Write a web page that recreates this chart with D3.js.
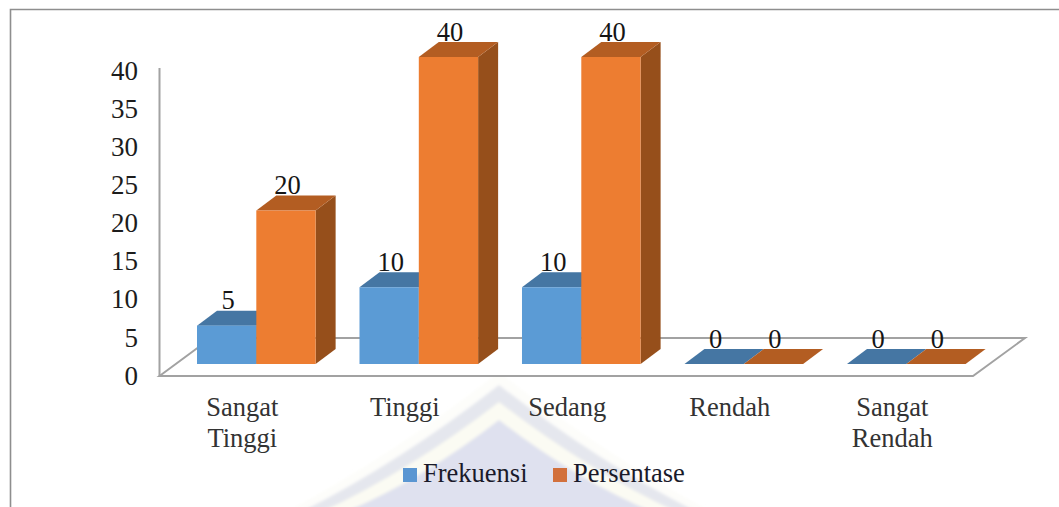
<!DOCTYPE html>
<html>
<head>
<meta charset="utf-8">
<script src="https://cdn.jsdelivr.net/npm/d3@7/dist/d3.min.js"></script>
<style>
  html, body { margin: 0; padding: 0; background: #fff; }
  svg { display: block; }
  text { font-family: "Liberation Serif", "Times New Roman", serif; }
</style>
</head>
<body>
<svg id="chart" width="1059" height="507"></svg>
<script>
const categories = [["Sangat", "Tinggi"], ["Tinggi"], ["Sedang"], ["Rendah"], ["Sangat", "Rendah"]];
const seriesNames = ["Frekuensi", "Persentase"];
const frekuensi = [5, 10, 10, 0, 0];
const persentase = [20, 40, 40, 0, 0];
const axisTicks = [0, 5, 10, 15, 20, 25, 30, 35, 40];

const W = 1059, H = 507;
const svg = d3.select("#chart").attr("viewBox", `0 0 ${W} ${H}`);

// Bar faces: front, lid and right side for each series
const palette = {
  Frekuensi:  { front: "#5b9bd5", top: "#4576a3", side: "#3c6690", key: "#5a96d2" },
  Persentase: { front: "#ed7d31", top: "#b35d22", side: "#964f1b", key: "#d2703c" }
};
const depthX = 20, depthY = 15;

const y = d3.scaleLinear().domain([0, 40]).range([364, 57]);
const labelY = d3.scaleLinear().domain([0, 40]).range([375.5, 70.5]);
const x0 = d3.scaleBand().domain(d3.range(categories.length)).range([197, 965.6]).paddingInner(0.27);
const x1 = d3.scaleBand().domain(seriesNames).range([0, x0.bandwidth()]);

// Faded roof emblem sitting behind the legend, with softly sagging eaves
const defs = svg.append("defs");
defs.append("filter").attr("id", "soft")
  .attr("x", "-10%").attr("y", "-10%").attr("width", "120%").attr("height", "120%")
  .append("feGaussianBlur").attr("stdDeviation", 1.6);
defs.append("clipPath").attr("id", "page").append("rect")
  .attr("width", W).attr("height", H);

const roof = (peak, spread) => {
  const cx = 499, sag = 14, midY = (peak + H + 6) / 2 + sag;
  const l = cx - spread, r = cx + spread;
  return `M${cx},${peak}Q${cx + spread / 2},${midY} ${r},${H + 6}L${l},${H + 6}Q${cx - spread / 2},${midY} ${cx},${peak}Z`;
};
const emblem = svg.append("g").attr("clip-path", "url(#page)")
  .append("g").attr("filter", "url(#soft)");
emblem.append("path").attr("d", roof(372, 215)).attr("fill", "#fdfdfa");
emblem.append("path").attr("d", roof(385, 200)).attr("fill", "#e5e7ee");
emblem.append("path").attr("d", roof(402, 180)).attr("fill", "#fbfbf3");
emblem.append("path").attr("d", roof(420, 156)).attr("fill", "#dfe1ef");

// Frame around the plot
svg.append("path").attr("d", `M10.5,${H}V9.5H${W}`)
  .attr("fill", "none").attr("stroke", "#8e8e8e").attr("stroke-width", 1.6);

// Floor of the 3D plot area and the vertical wall edge
const floorLine = "#a2a2a2";
svg.append("path")
  .attr("d", "M159.5,376L211,338H1025L973,376Z")
  .attr("fill", "#fff").attr("stroke", floorLine).attr("stroke-width", 2).attr("stroke-linejoin", "miter");
svg.append("line")
  .attr("x1", 159.5).attr("x2", 159.5).attr("y1", 68).attr("y2", 376)
  .attr("stroke", floorLine).attr("stroke-width", 2);

// Value axis labels
const axis = d3.axisLeft(labelY).tickValues(axisTicks).tickSize(0).tickPadding(0);
const axisG = svg.append("g").attr("transform", "translate(138,0)").call(axis);
axisG.select(".domain").remove();
axisG.selectAll("text").attr("font-size", 27).attr("fill", "#1c1c1c")
  .style("font-family", '"Liberation Serif", serif');

// Bars
const rows = seriesNames.map((name, s) => ({
  name,
  values: s === 0 ? frekuensi : persentase
}));
const poly = pts => pts.map(p => p.join(",")).join(" ");

rows.forEach(row => {
  const c = palette[row.name];
  const g = svg.append("g").attr("class", "series").selectAll("g")
    .data(row.values.map((v, i) => ({ v, i })))
    .join("g");
  const left = d => x0(d.i) + x1(row.name);
  const right = d => left(d) + x1.bandwidth();

  g.append("polygon").attr("fill", c.side).attr("points", d => poly([
    [right(d), y(d.v)], [right(d) + depthX, y(d.v) - depthY],
    [right(d) + depthX, y(0) - depthY], [right(d), y(0)]
  ]));
  g.append("polygon").attr("fill", c.top)
    .attr("points", d => poly([
      [left(d), y(d.v)], [left(d) + depthX, y(d.v) - depthY],
      [right(d) + depthX, y(d.v) - depthY], [right(d), y(d.v)]
    ]));
  g.filter(d => d.v > 0).append("rect")
    .attr("fill", c.front)
    .attr("x", left).attr("y", d => y(d.v))
    .attr("width", x1.bandwidth()).attr("height", d => y(0) - y(d.v));
});

// Value labels resting on each bar's lid
rows.forEach(row => {
  svg.append("g").selectAll("text")
    .data(row.values.map((v, i) => ({ v, i })))
    .join("text")
    .attr("x", d => x0(d.i) + x1(row.name) + x1.bandwidth() / 2 + 1.5)
    .attr("y", d => y(d.v) - depthY - 1.5)
    .attr("text-anchor", "middle")
    .attr("font-size", 26.5).attr("fill", "#151515")
    .text(d => d.v);
});

// Category labels, wrapped onto separate lines
svg.append("g").selectAll("text")
  .data(categories)
  .join("text")
  .attr("text-anchor", "middle")
  .attr("font-size", 26.5).attr("fill", "#333")
  .each(function (lines, i) {
    const cx = x0(i) + x0.bandwidth() / 2 - 14;
    d3.select(this).selectAll("tspan").data(lines).join("tspan")
      .attr("x", cx).attr("y", (_, k) => 416 + k * 31)
      .text(d => d);
  });

// Legend
const legendPos = [{ box: 403, text: 423 }, { box: 553, text: 573 }];
const legend = svg.append("g").selectAll("g").data(seriesNames).join("g");
legend.append("rect")
  .attr("x", (_, i) => legendPos[i].box).attr("y", 468)
  .attr("width", 14).attr("height", 14)
  .attr("fill", d => palette[d].key);
legend.append("text")
  .attr("x", (_, i) => legendPos[i].text).attr("y", 482)
  .attr("font-size", 26.5).attr("fill", "#1a1a2a")
  .text(d => d);
</script>
</body>
</html>
